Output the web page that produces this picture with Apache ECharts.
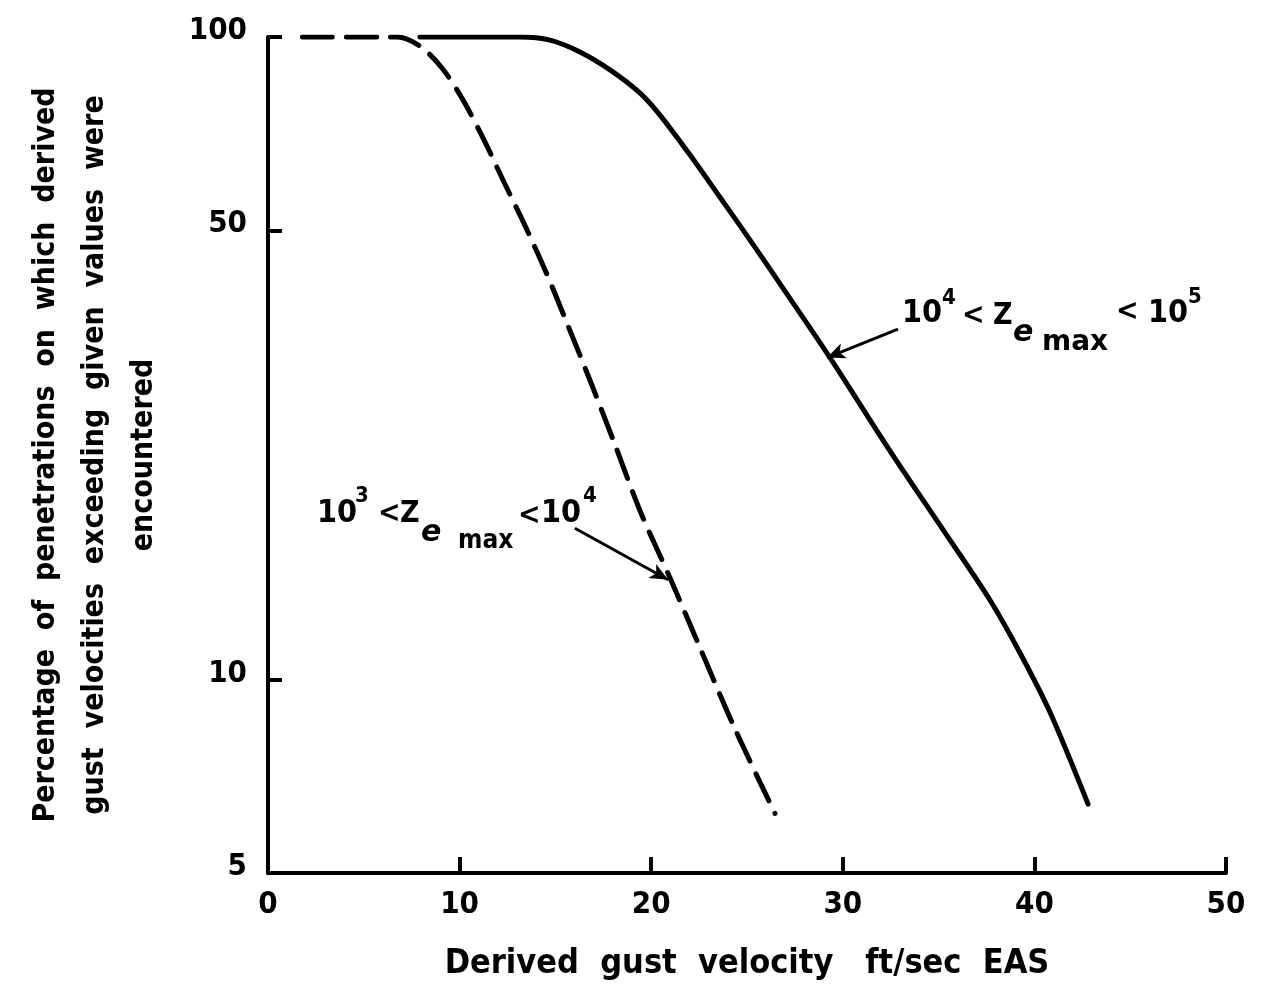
<!DOCTYPE html>
<html>
<head>
<meta charset="utf-8">
<script src="https://cdn.jsdelivr.net/npm/echarts@6/dist/echarts.min.js"></script>
<style>
html,body{margin:0;padding:0;background:#fff;}
#c{width:1268px;height:997px;}
</style>
</head>
<body>
<div id="c"></div>
<script>
// ---- data ----
const xTickValues = [0, 10, 20, 30, 40, 50];
const yLabelValues = [5, 10, 50, 100];
const yTickValues = [10, 50, 100];

// 10^3 < Ze max < 10^4  (dashed)
const lowX = [1.8, 6.73, 7.93, 9.08, 10.18, 11.33, 12.37, 13.41, 14.46, 15.50, 16.81, 18.11, 19.42, 20.98, 22.55, 24.37, 26.46];
const lowY = [100, 100, 96.8, 89.5, 79.8, 68.6, 59.0, 50.9, 43.4, 36.5, 29.2, 23.2, 18.3, 14.4, 11.2, 8.38, 6.19];

// 10^4 < Ze max < 10^5  (solid)
const highX = [7.93, 11.06, 13.15, 14.72, 16.28, 17.85, 19.42, 20.46, 22.03, 23.59, 25.16, 27.24, 29.33, 32.46, 35.59, 37.68, 39.25, 40.81, 42.80];
const highY = [100, 100, 100, 98.9, 94.8, 88.9, 81.8, 75.6, 65.5, 56.3, 48.3, 39.2, 31.7, 22.7, 16.5, 13.3, 11.0, 8.9, 6.4];

// annotation anchors (data coordinates) and arrows
const highLabelAnchor = [33.09, 37.15];
const highArrow = [[32.88, 35.1], [29.18, 31.7]];
const lowLabelAnchor = [2.56, 18.1];
const lowArrow = [[16.02, 17.2], [20.88, 14.3]];

const xTitle = 'Derived  gust  velocity   ft/sec  EAS';
const yTitle = 'Percentage  of  penetrations  on  which  derived\ngust  velocities  exceeding  given  values  were\nencountered';

const FONT = '"DejaVu Sans Condensed", "DejaVu Sans", sans-serif';
const WIDE = '"DejaVu Sans", sans-serif';

const zip = (a, b) => a.map((v, i) => [v, b[i]]);

const chart = echarts.init(document.getElementById('c'), null, {renderer: 'canvas'});

const arrowLine = (pts) => ({
  silent: true,
  symbol: ['none', 'arrow'],
  symbolSize: [12, 18],
  label: {show: false},
  lineStyle: {color: '#000', width: 3, type: 'solid'},
  emphasis: {disabled: true},
  data: [[{coord: pts[0]}, {coord: pts[1]}]]
});

chart.setOption({
  animation: false,
  backgroundColor: '#fff',
  grid: {left: 268, right: 42, top: 37, bottom: 124, containLabel: false},
  xAxis: {
    type: 'value', min: 0, max: 50, interval: 10,
    axisLine: {lineStyle: {color: '#000', width: 4}},
    axisTick: {inside: true, length: 16, lineStyle: {color: '#000', width: 4}, customValues: xTickValues.slice(1)},
    axisLabel: {color: '#000', fontSize: 31, fontWeight: 'bold', fontFamily: FONT, margin: 16, customValues: xTickValues},
    splitLine: {show: false},
    name: xTitle, nameLocation: 'middle', nameGap: 74,
    nameTextStyle: {color: '#000', fontSize: 34, fontWeight: 'bold', fontFamily: FONT}
  },
  yAxis: {
    type: 'log', logBase: 10, min: 5, max: 100,
    axisLine: {lineStyle: {color: '#000', width: 4}},
    axisTick: {inside: true, length: 14, lineStyle: {color: '#000', width: 4}, customValues: yTickValues},
    minorTick: {show: false},
    axisLabel: {color: '#000', fontSize: 31, fontWeight: 'bold', fontFamily: FONT, margin: 21,
      verticalAlign: 'bottom', lineHeight: 12, customValues: yLabelValues},
    splitLine: {show: false},
    name: yTitle, nameLocation: 'middle', nameRotate: 90, nameGap: 99,
    nameTextStyle: {color: '#000', fontSize: 30, fontWeight: 'bold', fontFamily: FONT, lineHeight: 49, align: 'center'}
  },
  series: [
    {
      type: 'line', data: zip(lowX, lowY), smooth: 0.3, showSymbol: false, silent: true,
      lineStyle: {color: '#000', width: 5, type: [30, 14], cap: 'round'},
      markLine: arrowLine(lowArrow)
    },
    {
      type: 'line', data: zip(highX, highY), smooth: 0.3, showSymbol: false, silent: true,
      lineStyle: {color: '#000', width: 5, cap: 'round'},
      markLine: arrowLine(highArrow)
    }
  ]
});

function txt(x, y, text, size, extra) {
  return {
    type: 'text', x: x, y: y,
    style: Object.assign({text: text, fill: '#000', fontSize: size, fontFamily: FONT, fontWeight: 'bold',
      align: 'left', verticalAlign: 'middle', textAlign: 'left', textVerticalAlign: 'middle'}, extra || {})
  };
}

function label(anchor, sup1, sup2, offs) {
  const p = chart.convertToPixel({gridIndex: 0}, anchor);
  return {
    type: 'group', x: p[0], y: p[1], silent: true,
    children: [
      txt(0, 0, '10', 32),
      txt(offs.s1[0], offs.s1[1], sup1, 22),
      txt(offs.lt1[0], offs.lt1[1], '<', 30),
      txt(offs.z[0], offs.z[1], 'Z', 30),
      txt(offs.e[0], offs.e[1], 'e', 30, {fontStyle: 'italic', fontFamily: WIDE}),
      txt(offs.m[0], offs.m[1], 'max', offs.mSize, {fontFamily: offs.mFont}),
      txt(offs.lt2[0], offs.lt2[1], '<', 30),
      txt(offs.ten[0], offs.ten[1], '10', 32),
      txt(offs.s2[0], offs.s2[1], sup2, 22)
    ]
  };
}

chart.setOption({
  graphic: [
    label(highLabelAnchor, '4', '5', {s1: [40, -15], lt1: [60, 3], z: [91, 3], e: [111, 20], m: [140, 29], mSize: 28, mFont: WIDE,
      lt2: [214, -1], ten: [246, 0], s2: [286, -16]}),
    label(lowLabelAnchor, '3', '4', {s1: [38, -18], lt1: [61, 0], z: [83, 0], e: [104, 19], m: [141, 27], mSize: 26, mFont: FONT,
      lt2: [201, 2], ten: [224, 0], s2: [266, -18]})
  ]
});
</script>
</body>
</html>
